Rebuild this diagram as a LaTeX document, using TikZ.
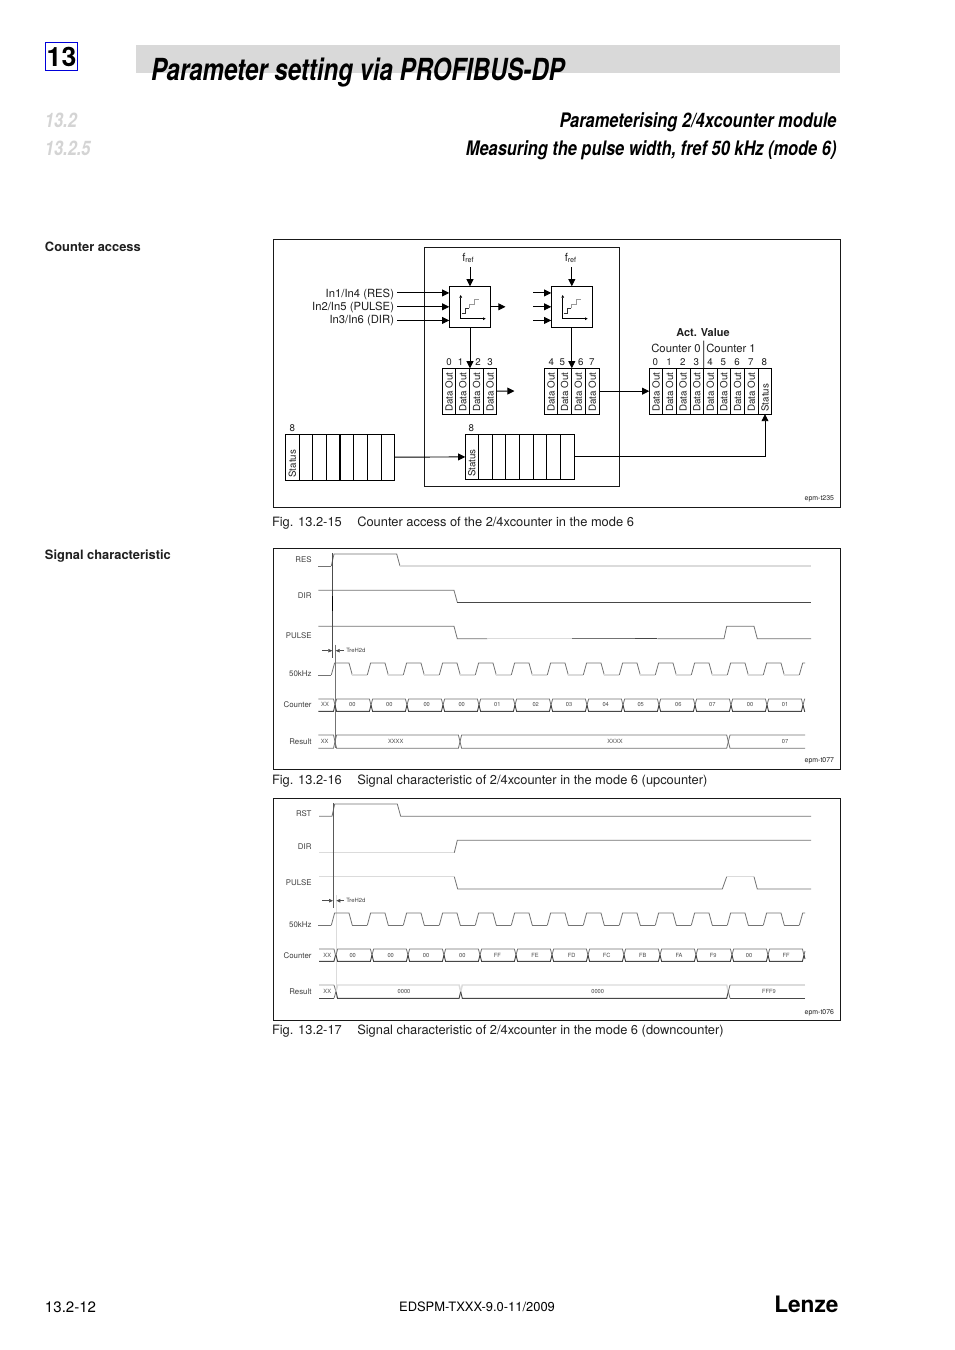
\documentclass[tikz,border=0pt]{standalone}
\usepackage{fontspec}
\setmainfont{TeX Gyre Heros}
\newfontfamily\condf[FakeStretch=0.79]{TeX Gyre Heros}
\newfontfamily\condg[FakeStretch=0.82]{TeX Gyre Heros}
\usetikzlibrary{arrows.meta}
\definecolor{barg}{HTML}{D9D9D9}
\definecolor{secg}{HTML}{D4D4D4}
\colorlet{wv}{black!55}
\colorlet{wvl}{black!14}
\colorlet{wvd}{black!72}
\tikzset{
  x=0.75pt,y=-0.75pt,
  every node/.style={inner sep=0pt,outer sep=0pt,text=black!88},
  frameb/.style={draw=black!90,line width=0.6pt},
  arr/.style={draw=black,line width=0.7pt,-{Triangle[length=5.4pt,width=5.2pt]}},
  tinyarr/.style={draw=black!70,line width=0.5pt,-{Triangle[length=3pt,width=2.6pt]}},
  smtxt/.style={font=\fontsize{8.45pt}{10pt}\selectfont},
  labtxt/.style={font=\fontsize{7.3pt}{9pt}\selectfont},
  sigtxt/.style={font=\fontsize{5.9pt}{7pt}\selectfont,anchor=east,text=black!75},
  valtxt/.style={font=\fontsize{4.3pt}{5pt}\selectfont,text=black!70},
  figcap/.style={font=\fontsize{9.65pt}{11pt}\selectfont,anchor=west},
  sidetxt/.style={font=\fontsize{9.65pt}{11pt}\selectfont\bfseries,anchor=west},
  tagtxt/.style={font=\fontsize{5.2pt}{6pt}\selectfont,anchor=east},
  wave/.style={draw=wv,line width=0.6pt},
  wavel/.style={draw=wvl,line width=1.1pt},
  waved/.style={draw=wvd,line width=0.7pt},
}
% cell: name, x1, x2, y1, y2
\newcommand{\cellnode}[5]{\node[draw=black,line width=0.6pt,minimum width={(#3-#2)*0.75pt},minimum height={(#5-#4)*0.75pt}] (#1) at ({(#2+#3)/2},{(#4+#5)/2}) {};}
\newcommand{\celltext}[2]{\node[labtxt,rotate=90,anchor=west] (#1t) at ([yshift=1.9pt]#1.south) {#2};}
% stepped counter icon, offset #1
\newcommand{\icon}[1]{
  \begin{scope}[xshift=#1*0.75pt]
  \draw[line width=0.5pt,{Triangle[length=2pt,width=2pt]}-{Triangle[length=2pt,width=2pt]}] (460.7,295) -- (460.7,318.7) -- (485.7,318.7);
  \draw[line width=0.6pt,black!80] (461.7,313.3) -- (465.7,313.3) -- (465.7,308.3) -- (469,308.3);
  \draw[line width=0.6pt,black!40] (469,308.3) -- (469,304.3) -- (474,304.3) -- (474,299.3) -- (479,299.3);
  \end{scope}}
% clock: ylow, yhigh, lowstyle
\newcommand{\clockw}[3]{
  \draw[wave] (318.3,#1) -- (331.3,#1);
  \foreach \kk in {0,...,12}{
    \pgfmathsetmacro{\rr}{331.3+36*\kk}
    \draw[wave] (\rr,#1) -- ({\rr+3.3},#2) -- ({\rr+17.7},#2) -- ({\rr+21},#1);
    \draw[#3] ({\rr+21},#1) -- ({\rr+36},#1);
  }
  \draw[wave] (799.3,#1) -- (802.7,#2) -- (805,#2);
}
% bus cell: x1,x2,ytop,ybot,topstyle,botstyle
\newcommand{\buscell}[6]{
  \pgfmathsetmacro{\ym}{(#3+#4)/2}
  \draw[#5] (#1,\ym) -- ({#1+1.6},#3) -- ({#2-1.6},#3) -- (#2,\ym);
  \draw[#6] (#1,\ym) -- ({#1+1.6},#4) -- ({#2-1.6},#4) -- (#2,\ym);
}
\begin{document}
\begin{tikzpicture}
\useasboundingbox (0,0) rectangle (954,1350);
\fill[white] (0,0) rectangle (954,1350);
% header
\fill[barg] (136,45) rectangle (840,73);
\node[draw=blue!85!black,line width=0.9pt,minimum width=24.5pt,minimum height=21.5pt,font=\fontsize{20pt}{22pt}\selectfont\bfseries,text=black] (chap) at (61.5,56.5) {13};
\node[anchor=base west,font=\condf\fontsize{22.8pt}{25pt}\selectfont\bfseries\itshape,text=black] (title) at (151,80) {Parameter setting via PROFIBUS-DP};
\node[anchor=base west,font=\condg\fontsize{15pt}{16pt}\selectfont\bfseries\itshape,text=secg] (s1) at (45,127.5) {13.2};
\node[anchor=base west,font=\condg\fontsize{15pt}{16pt}\selectfont\bfseries\itshape,text=secg] (s2) at (45,155.5) {13.2.5};
\node[anchor=base east,font=\condg\fontsize{15pt}{16pt}\selectfont\bfseries\itshape,text=black] (h1) at (836.5,127.5) {Parameterising 2/4xcounter module};
\node[anchor=base east,font=\condg\fontsize{15pt}{16pt}\selectfont\bfseries\itshape,text=black] (h2) at (836.5,155.5) {Measuring the pulse width, fref 50 kHz (mode 6)};
\node[sidetxt] (sideA) at (45,246.5) {Counter access};
\node[sidetxt] (sideB) at (45,556.5) {Signal characteristic};
% frames
\draw[frameb] (273,239) rectangle (840,507);
\draw[frameb] (273,548) rectangle (840,769);
\draw[frameb] (273,798) rectangle (840,1020);
\node[figcap] (capA) at (272,523) {Fig. 13.2-15\hspace{1.2em}Counter access of the 2/4xcounter in the mode 6};
\node[figcap] (capB) at (272,781) {Fig. 13.2-16\hspace{1.2em}Signal characteristic of 2/4xcounter in the mode 6 (upcounter)};
\node[figcap] (capC) at (272,1031) {Fig. 13.2-17\hspace{1.2em}Signal characteristic of 2/4xcounter in the mode 6 (downcounter)};
% ---- diagram 1
\draw[frameb] (424,247) rectangle (619,486);
\cellnode{blkA}{449.3}{490.7}{286.3}{327.3}
\cellnode{blkB}{551.3}{592.3}{286.3}{327.3}
\icon{0}
\icon{102}
\node[smtxt] (frefA) at (468,258) {f\raisebox{-0.2ex}{\fontsize{5.4pt}{6pt}\selectfont ref}};
\node[smtxt] (frefB) at (570.5,258) {f\raisebox{-0.2ex}{\fontsize{5.4pt}{6pt}\selectfont ref}};
\coordinate (ftA) at (470,267);
\coordinate (ftB) at (571.8,267);
\draw[arr] (ftA) -- (blkA.north);
\draw[arr] (ftB) -- (blkB.north);
\node[smtxt,anchor=east] (inA) at (394,294) {In1/In4 (RES)};
\node[smtxt,anchor=east] (inB) at (394,307.5) {In2/In5 (PULSE)};
\node[smtxt,anchor=east] (inC) at (394,321) {In3/In6 (DIR)};
\coordinate (inAe) at (397,292.9);
\coordinate (inBe) at (397,306.8);
\coordinate (inCe) at (397,320.4);
\draw[arr] (inAe) -- (inAe -| blkA.west);
\draw[arr] (inBe) -- (inBe -| blkA.west);
\draw[arr] (inCe) -- (inCe -| blkA.west);
\coordinate (pAe) at (533.3,292.9);
\coordinate (pBe) at (533.3,306.8);
\coordinate (pCe) at (533.3,320.4);
\draw[arr] (pAe) -- (pAe -| blkB.west);
\draw[arr] (pBe) -- (pBe -| blkB.west);
\draw[arr] (pCe) -- (pCe -| blkB.west);
\coordinate (outA) at (505.5,306.8);
\draw[arr] (blkA.east) -- (outA);
% data tables
\cellnode{dA0}{442.3}{455.7}{368.3}{414}
\cellnode{dA1}{455.7}{469.7}{368.3}{414}
\cellnode{dA2}{469.7}{483.3}{368.3}{414}
\cellnode{dA3}{483.3}{496.7}{368.3}{414}
\cellnode{dB0}{544.3}{557.7}{368.3}{414}
\cellnode{dB1}{557.7}{571.3}{368.3}{414}
\cellnode{dB2}{571.3}{585.3}{368.3}{414}
\cellnode{dB3}{585.3}{599.3}{368.3}{414}
\cellnode{dC0}{649.3}{662.7}{368.3}{414}
\cellnode{dC1}{662.7}{676.3}{368.3}{414}
\cellnode{dC2}{676.3}{690}{368.3}{414}
\cellnode{dC3}{690}{703.7}{368.3}{414}
\cellnode{dC4}{703.7}{717}{368.3}{414}
\cellnode{dC5}{717}{730.7}{368.3}{414}
\cellnode{dC6}{730.7}{744.3}{368.3}{414}
\cellnode{dC7}{744.3}{758.3}{368.3}{414}
\cellnode{dC8}{758.3}{771.7}{368.3}{414}
\foreach \n in {dA0,dA1,dA2,dA3,dB0,dB1,dB2,dB3,dC0,dC1,dC2,dC3,dC4,dC5,dC6,dC7}{\celltext{\n}{Data Out}}
\celltext{dC8}{Status}
\draw[arr] (blkA.south) -- (blkA.south |- dA1.north);
\draw[arr] (blkB.south) -- (blkB.south |- dB2.north);
\coordinate (outD) at (514.5,391);
\draw[arr] (dA3.east) -- (outD);
\draw[arr] (dB3.east) -- (dC0.west);
\foreach \x/\l/\m in {449/0/a,460.7/1/b,478/2/c,490/3/d,551.3/4/e,562.3/5/f,580.7/6/g,591.7/7/h,655.3/0/i,669/1/j,682.7/2/k,696.3/3/l,710/4/m,723.3/5/n,737/6/o,750.7/7/p,764.3/8/q}{
  \node[labtxt] (num\m) at (\x,362.5) {\l};
}
\node[smtxt,font=\fontsize{8.2pt}{10pt}\selectfont\bfseries] (act) at (703,332.5) {Act. Value};
\node[smtxt] (cnt0) at (676,348.5) {Counter 0};
\node[smtxt] (cnt1) at (731,348.5) {Counter 1};
\coordinate (divtop) at (703.7,340.7);
\draw[line width=0.6pt] (divtop) -- (dC3.north east);
% status tables
\cellnode{sL0}{285.3}{299.3}{434.3}{480}
\cellnode{sL1}{299.3}{312.7}{434.3}{480}
\cellnode{sL2}{312.7}{326.3}{434.3}{480}
\cellnode{sL3}{326.3}{340}{434.3}{480}
\cellnode{sL4}{340}{353.3}{434.3}{480}
\cellnode{sL5}{353.3}{367.3}{434.3}{480}
\cellnode{sL6}{367.3}{381.3}{434.3}{480}
\cellnode{sL7}{381.3}{394.3}{434.3}{480}
\draw[line width=1pt] (sL3.north east) -- (sL3.south east);
\cellnode{sM0}{465.3}{478.3}{434.3}{479.5}
\cellnode{sM1}{478.3}{492.3}{434.3}{479.5}
\cellnode{sM2}{492.3}{505.7}{434.3}{479.5}
\cellnode{sM3}{505.7}{519.3}{434.3}{479.5}
\cellnode{sM4}{519.3}{533.3}{434.3}{479.5}
\cellnode{sM5}{533.3}{546.5}{434.3}{479.5}
\cellnode{sM6}{546.5}{560.3}{434.3}{479.5}
\cellnode{sM7}{560.3}{574.3}{434.3}{479.5}
\celltext{sL0}{Status}
\celltext{sM0}{Status}
\node[labtxt] (numL) at (292.3,427.7) {8};
\node[labtxt] (numM) at (471.3,427.7) {8};
\draw[arr] (sL7.east) -- (sM0.west);
\draw[arr] (sM7.east) -| (dC8.south);
\node[tagtxt] (tagA) at (834,499) {epm-t235};
% ---- signal chart 2
\node[sigtxt] (bRES) at (311.5,560) {RES};
\node[sigtxt] (bDIR) at (311.5,595.7) {DIR};
\node[sigtxt] (bPUL) at (311.5,635.3) {PULSE};
\node[sigtxt] (bCLK) at (311.5,673.7) {50kHz};
\node[sigtxt] (bCNT) at (311.5,704.7) {Counter};
\node[sigtxt] (bRSL) at (311.5,741.3) {Result};
% RES
\draw[wave] (318.3,566) -- (331.3,566);
\draw[wave] (331.3,566) -- (334,554) -- (396.7,554) -- (400,566);
\draw[wavel] (400,566) -- (811,566);
% DIR
\draw[wave] (318.3,590.3) -- (454,590.3) -- (457.3,602.3);
\draw[waved] (457.3,602.3) -- (811,602.3);
% PULSE
\draw[wave] (318.3,626.3) -- (454,626.3) -- (457.3,638.7) -- (487.3,638.7);
\draw[wavel] (487.3,638.7) -- (572,638.7);
\draw[wave] (572,638.7) -- (635,638.7);
\draw[waved] (635,638.7) -- (657.3,638.7);
\draw[wave] (657.3,638.7) -- (724,638.7) -- (726.7,626.3) -- (754,626.3) -- (757.3,638.7) -- (811,638.7);
% delay
\draw[wave,draw=black!70] (332.3,553) -- (332.3,658);
\draw[line width=0.7pt] (332.3,596) -- (332.3,611);
\draw[wave] (335.7,644.7) -- (335.7,748);
\coordinate (tdl1) at (322.3,650.7);
\coordinate (tdl2) at (332.3,650.7);
\coordinate (tdl3) at (344,650.7);
\coordinate (tdl4) at (335.7,650.7);
\draw[tinyarr] (tdl1) -- (tdl2);
\draw[tinyarr] (tdl3) -- (tdl4);
\node[anchor=west,font=\fontsize{4.4pt}{5pt}\selectfont,text=black!75] (tdA) at (346.3,650.7) {TreH2d};
% clock
\clockw{675}{663}{wavel}
% counter
\draw[wave] (318.3,699) -- (333.5,699) -- (335,705);
\draw[waved] (318.3,711.3) -- (333.5,711.3) -- (335,705);
\foreach \kk in {0,...,12}{
  \buscell{\the\numexpr335+36*\kk\relax}{\the\numexpr371+36*\kk\relax}{699}{711.3}{wave}{waved}
}
\draw[wave] (803,705) -- (804.6,699) -- (805,699);
\draw[waved] (803,705) -- (804.6,711.3) -- (805,711.3);
\foreach \x/\l/\m in {325/XX/z,352.3/00/a,389.3/00/b,426.7/00/c,461.7/00/d,497.3/01/e,535.7/02/f,569/03/g,605.7/04/h,640.7/05/i,678.3/06/j,712.3/07/k,750/00/l,785/01/m}{
  \node[valtxt] (bc\m) at (\x,704.8) {\l};
}
% result
\draw[wave] (318.3,735) -- (333.5,735) -- (335,741.6) -- (333.5,748.3) -- (318.3,748.3);
\buscell{335}{460}{735}{748.3}{wave}{wave}
\buscell{460}{728.3}{735}{748.3}{wave}{wave}
\draw[wave] (805,735) -- (730,735) -- (728.3,741.6) -- (730,748.3) -- (805,748.3);
\node[valtxt] (brX) at (324.7,741.7) {XX};
\node[valtxt] (brA) at (395.7,741.7) {XXXX};
\node[valtxt] (brB) at (615,741.7) {XXXX};
\node[valtxt] (brC) at (785,741.7) {07};
\node[tagtxt] (tagB) at (834,761) {epm-t077};
% ---- signal chart 3
\node[sigtxt] (cRST) at (311.5,813.3) {RST};
\node[sigtxt] (cDIR) at (311.5,846.3) {DIR};
\node[sigtxt] (cPUL) at (311.5,882.3) {PULSE};
\node[sigtxt] (cCLK) at (311.5,924.7) {50kHz};
\node[sigtxt] (cCNT) at (311.5,955.3) {Counter};
\node[sigtxt] (cRSL) at (311.5,991.3) {Result};
\draw[wave] (319,816.3) -- (332,816.3) -- (334.7,804) -- (397.3,804) -- (400.7,816.3) -- (811,816.3);
\draw[wavel] (319,852.7) -- (454.3,852.7);
\draw[wave] (454.3,852.7) -- (457.3,840.3) -- (811,840.3);
\draw[wavel] (319,876.7) -- (454.3,876.7);
\draw[wave] (454.3,876.7) -- (457.7,889) -- (722.3,889) -- (726.7,876.7);
\draw[wavel] (726.7,876.7) -- (754,876.7);
\draw[wave] (754,876.7) -- (757.3,889) -- (811,889);
\draw[wavel] (336.3,895.3) -- (336.3,998);
\draw[wave,draw=black!65] (333,803) -- (333,908);
\coordinate (tdm1) at (322.3,900.7);
\coordinate (tdm2) at (333,900.7);
\coordinate (tdm3) at (344,900.7);
\coordinate (tdm4) at (336.3,900.7);
\draw[tinyarr] (tdm1) -- (tdm2);
\draw[tinyarr] (tdm3) -- (tdm4);
\node[anchor=west,font=\fontsize{4.4pt}{5pt}\selectfont,text=black!75] (tdB) at (346.3,900.7) {TreH2d};
\clockw{925.3}{913}{wave}
\draw[wave] (319,949) -- (334,949) -- (335.5,955.2);
\draw[waved] (319,961.3) -- (334,961.3) -- (335.5,955.2);
\foreach \kk in {0,...,12}{
  \buscell{\the\numexpr336+36*\kk\relax}{\the\numexpr372+36*\kk\relax}{949}{961.3}{wave}{waved}
}
\draw[wave] (804,955.2) -- (805,951);
\draw[waved] (804,955.2) -- (805,959);
\foreach \x/\l/\m in {327.3/XX/z,352.7/00/a,390.7/00/b,426/00/c,462.3/00/d,497.3/FF/e,535/FE/f,571.7/FD/g,606.7/FC/h,642.7/FB/i,679/FA/j,713.3/F9/k,749/00/l,786/FF/m}{
  \node[valtxt] (cc\m) at (\x,955) {\l};
}
\draw[wavel] (319,985) -- (334,985);
\draw[waved] (319,998.3) -- (334,998.3);
\draw[wave] (334,985) -- (336,991.6) -- (334,998.3);
\buscell{336}{460.7}{985}{998.3}{wavel}{waved}
\buscell{460.7}{728.3}{985}{998.3}{wavel}{waved}
\draw[wavel] (805,985) -- (730,985);
\draw[waved] (805,998.3) -- (730,998.3);
\draw[wave] (730,985) -- (728.3,991.6) -- (730,998.3);
\node[valtxt] (crX) at (327.3,991.7) {XX};
\node[valtxt] (crA) at (404,991.7) {0000};
\node[valtxt] (crB) at (597.7,991.7) {0000};
\node[valtxt] (crC) at (769,991.7) {FFF9};
\node[tagtxt] (tagC) at (834,1012.3) {epm-t076};
% footer
\node[anchor=base west,font=\fontsize{11.3pt}{14pt}\selectfont,text=black] (pg) at (45,1312) {13.2-12};
\node[anchor=base,font=\fontsize{9.7pt}{11pt}\selectfont,text=black] (doc) at (477,1311) {EDSPM-TXXX-9.0-11/2009};
\node[anchor=base east,font=\fontsize{17pt}{19pt}\selectfont\bfseries,text=black] (logo) at (838.5,1312) {Lenze};
\end{tikzpicture}
\end{document}
